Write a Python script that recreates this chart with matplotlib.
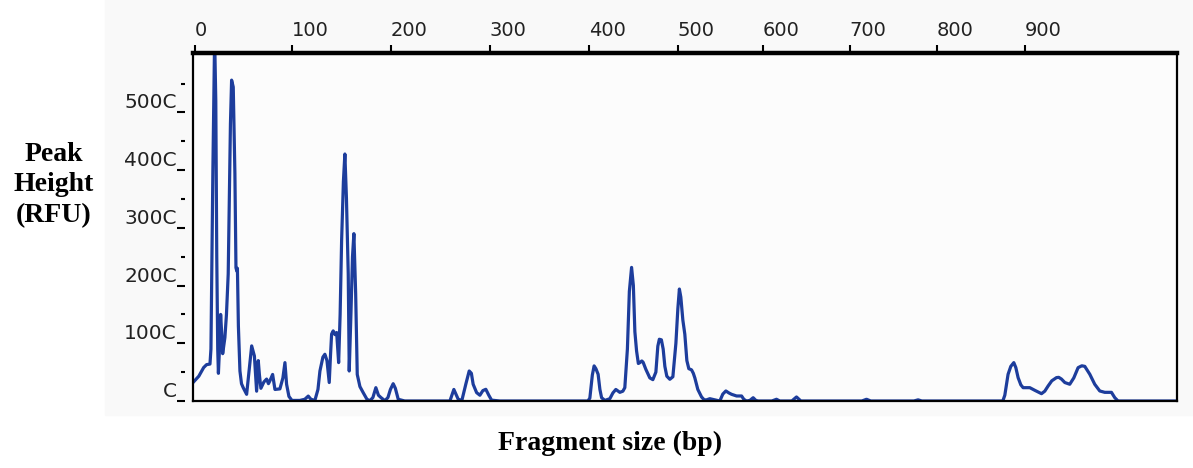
import numpy as np
import matplotlib
matplotlib.use('Agg')
import matplotlib.pyplot as plt
from matplotlib.patches import Rectangle

# size standard: fragment size (bp) vs scan point where it shows up
ladder_bp = [0, 100, 200, 300, 400, 500, 600, 700, 800, 900]
ladder_scan = [2, 99, 198, 297, 396, 485, 570, 657, 744, 832]

# y ticks as printed on the scan (last zero is cut off -> "C")
y_ticks = [0, 1000, 2000, 3000, 4000, 5000]
y_labels = ['C', '100C', '200C', '300C', '400C', '500C']
y_minor = [500, 1500, 2500, 3500, 4500, 5500]

# electropherogram trace
size_bp = [-2, 4, 9, 12, 15.5, 16.5, 18.5, 20.3, 21.5, 22.5, 23.5, 24.2, 25.3, 26.5, 27.5,
           28.6, 30.9, 32.5, 34.3, 35.5, 36.6, 37.8, 39.5, 41.2, 42.3, 43.2, 43.8, 44.3, 44.8,
           46.4, 48, 49.8, 53.3, 55.7, 58.5, 60.2, 61.3, 63.6, 65.3, 66.5, 68, 71.1, 73.9,
           75.8, 77.3, 80.1, 82.5, 87.6, 90.7, 92.8, 94.5, 96.9, 100, 108, 113, 116.5, 119.2,
           123.2, 126.3, 128.3, 131.3, 133.3, 135.4, 137.7, 139, 140.1, 141.7, 143.5, 145.2,
           147.2, 148.7, 150.2, 152, 153.5, 155.1, 156.9, 157.9, 159.6, 161.2, 162.6, 164.4,
           166, 168.7, 172, 175.8, 178.8, 181.8, 184.8, 187.4, 189.9, 193.9, 197, 199.5,
           202.3, 204.5, 207.4, 214, 259.6, 263.6, 268, 271.7, 275.8, 279.1, 281.3, 283.1,
           286.6, 289.9, 292.9, 295.9, 298.9, 301.7, 310, 399, 401.1, 403.9, 405.9, 407.9,
           410.4, 412.4, 414.3, 418, 423.6, 427, 430.3, 434.8, 438.2, 440.4, 443.3, 445.5,
           448, 450, 451.7, 453.6, 455.6, 457.3, 459.5, 461, 464, 468.5, 471.9, 475.3, 477.5,
           479.2, 481.5, 483.5, 485.4, 487.6, 491, 494.4, 497.8, 500, 501.8, 503.5, 505.9,
           508.2, 510.6, 512.9, 516.1, 518.2, 520, 523.5, 527.9, 531, 533.8, 537.6, 543.5,
           549.4, 552.9, 556.5, 560, 563.2, 569.1, 575, 577.6, 580.8, 584.7, 588.6, 591.8,
           594.5, 610.3, 615.7, 619.5, 633.3, 638.7, 643.7, 713.8, 719.2, 724.1, 773.6, 778.5,
           782.8, 875, 877.3, 881, 884.1, 887.5, 889.8, 892.4, 895.5, 898.1, 905.7, 911.4,
           919, 922.7, 926.5, 930.7, 936, 938.6, 941.7, 945.5, 951.1, 955.7, 960.6, 964.8,
           968.2, 973.9, 979.5, 985.2, 990.9, 998.5, 1002.3, 1006, 1073]
rfu = [320, 430, 580, 630, 640, 900, 4000, 6300, 5200, 2500, 900, 480, 900, 1500, 1200,
       820, 1100, 1500, 2200, 3500, 4800, 5560, 5440, 3940, 2310, 2250, 2300, 1790, 1300,
       520, 300, 230, 116, 500, 955, 850, 780, 170, 700, 450, 220, 330, 380,
       300, 350, 460, 200, 210, 400, 665, 290, 80, 10, 10, 30, 85, 30,
       10, 200, 520, 760, 810, 700, 320, 800, 1160, 1215, 1150, 1186,
       665, 1500, 2780, 3800, 4280, 3500, 2200, 520, 1500, 2500, 2900, 1860,
       460, 250, 145, 30, 5, 60, 231, 100, 60, 5, 60, 200,
       300, 220, 30, 0, 0, 200, 30, 10, 300, 520, 480, 290,
       145, 100, 180, 203, 100, 15, 0, 0, 50, 450, 608, 560,
       463, 200, 57, 10, 40, 140, 200, 150, 170, 231, 900, 1900,
       2315, 2000, 1200, 868, 650, 665, 694, 670, 550, 400, 370, 500, 950,
       1070, 1060, 900, 600, 430, 376, 420, 1000, 1600, 1940, 1800, 1400,
       1157, 700, 560, 540, 480, 400, 200, 70, 20, 20, 40, 20,
       0, 120, 174, 140, 116, 87, 87, 30, 0, 10, 57, 10,
       0, 0, 30, 0, 0, 70, 0, 0, 30, 0, 0, 20,
       0, 0, 100, 463, 600, 665, 580, 405, 280, 231, 231, 185,
       127, 170, 260, 350, 405, 410, 380, 320, 290, 400, 578, 610,
       600, 463, 290, 174, 150, 150, 57, 0, 0]

# non-linear sizing: extend the ladder linearly at both ends
bp_ext = np.array(ladder_bp, dtype=float)
scan_ext = np.array(ladder_scan, dtype=float)
lo = scan_ext[0] - (scan_ext[1] - scan_ext[0]) * 2
hi = scan_ext[-1] + (scan_ext[-1] - scan_ext[-2]) * 4
bp_ext = np.concatenate([[bp_ext[0] - 200], bp_ext, [bp_ext[-1] + 400]])
scan_ext = np.concatenate([[lo], scan_ext, [hi]])


def fwd(x):
    return np.interp(x, bp_ext, scan_ext)


def inv(s):
    return np.interp(s, scan_ext, bp_ext)


fig = plt.figure(figsize=(11.93, 4.68), dpi=100)
# slightly grey scanned area
fig.patches.append(Rectangle((105 / 1193, 1 - 415 / 468), 1, 1,
                             transform=fig.transFigure, color='#f9f9f9', zorder=-1))
ax = fig.add_axes([193 / 1193, 1 - 401 / 468, 984 / 1193, 348 / 468])
ax.set_facecolor('#fcfcfc')
ax.set_xscale('function', functions=(fwd, inv))

ax.plot(size_bp, rfu, color='#1d3d9c', lw=2.3, solid_joinstyle='round')
ax.set_xlim(-2, 1073)
ax.set_ylim(0, 6030)

for s in ax.spines.values():
    s.set_linewidth(1.6)
ax.spines['top'].set_linewidth(3.2)

# x ticks on top
ax.xaxis.tick_top()
ax.set_xticks(ladder_bp)
ax.set_xticklabels([str(v) for v in ladder_bp], fontsize=14, color='#222222')
ax.xaxis.set_minor_locator(plt.NullLocator())
ax.tick_params(axis='x', which='major', direction='out', length=6, width=1.5, pad=3)
for lab in ax.get_xticklabels():
    lab.set_ha('left')

# y ticks detached from the box, like the printout
ax.set_yticks([])
sec = ax.secondary_yaxis(-0.0081)
for s in sec.spines.values():
    s.set_visible(False)
sec.set_yticks(y_ticks)
sec.set_yticklabels(y_labels, fontsize=14.5, color='#222222')
sec.set_yticks(y_minor, minor=True)
sec.tick_params(axis='y', which='major', direction='out', length=6, width=1.5, pad=0)
sec.tick_params(axis='y', which='minor', direction='out', length=3, width=1.5)
for lab in sec.get_yticklabels():
    lab.set_va('bottom')

fig.text(54 / 1193, 1 - 185 / 468, 'Peak\nHeight\n(RFU)', ha='center', va='center',
         family='Liberation Serif', fontweight='bold', fontsize=20, linespacing=1.3)
fig.text(610 / 1193, 1 - 443 / 468, 'Fragment size (bp)', ha='center', va='center',
         family='Liberation Serif', fontweight='bold', fontsize=20)

fig.savefig('out.png', dpi=100)
